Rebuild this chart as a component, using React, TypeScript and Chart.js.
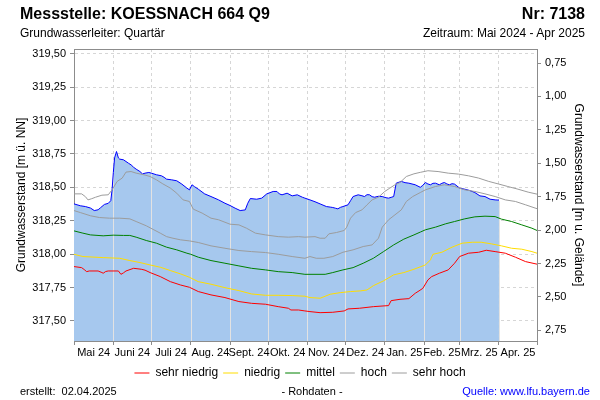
import React, { useEffect, useRef } from 'react';
import { Chart, registerables } from 'chart.js';

Chart.register(...registerables);

// ---- Data ----
const monthLabels = ['Mai 24', 'Juni 24', 'Juli 24', 'Aug. 24', 'Sept. 24', 'Okt. 24', 'Nov. 24', 'Dez. 24', 'Jan. 25', 'Feb. 25', 'Mrz. 25', 'Apr. 25'];
// day offsets (from 01.05.2024) of the month starts
const monthStartDays = [0, 31, 61, 92, 123, 153, 184, 214, 245, 276, 304, 335, 365];

const GROUND_LEVEL = 320.18; // m ü. NN
const Y_MIN = 317.35;
const Y_MAX = 319.535;

const measuredDays = [0, 5, 9, 13, 16, 19, 21, 24, 27, 29, 30, 31, 32, 33.5, 35, 36, 39, 43, 45, 47, 49, 52, 54, 56, 59, 61, 65, 69, 71, 73, 77, 81, 85, 89, 91, 93, 95, 98, 103, 108, 114, 119, 123, 127, 131, 135, 137, 139, 144, 148, 152, 157, 160, 162, 164, 168, 172, 176, 180, 182, 186, 190, 194, 199, 202, 204, 206, 208, 210, 212, 216, 218, 220, 224, 227, 229, 231, 233, 235, 237, 240, 243, 246, 248, 250, 252, 254, 258, 261, 264, 269, 273, 275, 277, 279, 281, 283, 285, 288, 290, 292, 294, 296, 298, 300, 304, 308, 312, 316, 320, 324, 328, 332, 335];
const measuredLevels = [318.376, 318.362, 318.356, 318.345, 318.326, 318.332, 318.348, 318.372, 318.38, 318.4, 318.48, 318.61, 318.72, 318.768, 318.72, 318.711, 318.706, 318.68, 318.668, 318.65, 318.636, 318.618, 318.6, 318.606, 318.611, 318.606, 318.594, 318.586, 318.575, 318.561, 318.556, 318.549, 318.524, 318.494, 318.481, 318.519, 318.505, 318.486, 318.451, 318.431, 318.406, 318.381, 318.364, 318.344, 318.326, 318.331, 318.381, 318.416, 318.411, 318.419, 318.451, 318.469, 318.469, 318.45, 318.444, 318.456, 318.436, 318.444, 318.426, 318.419, 318.406, 318.392, 318.376, 318.356, 318.352, 318.349, 318.344, 318.339, 318.35, 318.356, 318.369, 318.4, 318.431, 318.444, 318.437, 318.431, 318.445, 318.444, 318.43, 318.426, 318.433, 318.431, 318.422, 318.419, 318.425, 318.431, 318.531, 318.544, 318.535, 318.531, 318.519, 318.5, 318.515, 318.536, 318.525, 318.519, 318.53, 318.531, 318.519, 318.53, 318.536, 318.525, 318.519, 318.527, 318.524, 318.494, 318.486, 318.476, 318.461, 318.436, 318.431, 318.411, 318.406, 318.404];

const sehrHochDays = [0, 6, 9, 11, 14, 17, 22, 27, 30, 34, 38, 41, 45, 49, 55, 60, 65, 70, 76, 81, 86, 91, 94, 101, 108, 114, 123, 130, 136, 143, 151, 161, 169, 177, 182, 190, 194, 198, 201, 207, 213, 215, 218, 222, 227, 231, 235, 240, 245, 249, 253, 257, 262, 268, 273, 279, 287, 295, 303, 311, 319, 327, 335, 342, 350, 358, 365];
const sehrHochLevels = [318.451, 318.451, 318.43, 318.406, 318.415, 318.426, 318.441, 318.444, 318.481, 318.544, 318.569, 318.614, 318.618, 318.606, 318.594, 318.581, 318.556, 318.526, 318.494, 318.456, 318.406, 318.394, 318.337, 318.307, 318.269, 318.257, 318.224, 318.219, 318.194, 318.157, 318.144, 318.131, 318.127, 318.131, 318.127, 318.131, 318.119, 318.119, 318.152, 318.162, 318.177, 318.202, 318.269, 318.311, 318.331, 318.369, 318.406, 318.426, 318.469, 318.494, 318.519, 318.536, 318.581, 318.601, 318.612, 318.624, 318.618, 318.606, 318.599, 318.586, 318.569, 318.544, 318.524, 318.506, 318.486, 318.464, 318.449];

const hochDays = [0, 5, 13, 20, 28, 36, 44, 49, 57, 63, 68, 73, 78, 84, 91, 98, 108, 119, 130, 140, 151, 161, 172, 182, 186, 191, 197, 204, 212, 220, 228, 235, 240, 243, 248, 253, 258, 262, 267, 273, 277, 285, 292, 300, 308, 316, 324, 332, 340, 348, 356, 365];
const hochLevels = [318.326, 318.311, 318.287, 318.274, 318.269, 318.269, 318.264, 318.244, 318.212, 318.182, 318.157, 318.131, 318.119, 318.107, 318.099, 318.087, 318.062, 318.044, 318.027, 318.019, 318.012, 317.999, 317.982, 317.969, 317.982, 317.969, 317.969, 317.982, 318.014, 318.032, 318.057, 318.069, 318.119, 318.202, 318.257, 318.294, 318.331, 318.394, 318.431, 318.461, 318.481, 318.506, 318.519, 318.506, 318.481, 318.469, 318.451, 318.431, 318.406, 318.394, 318.369, 318.34];

const mittelDays = [0, 7, 13, 23, 31, 39, 44, 49, 57, 65, 73, 81, 89, 92, 98, 108, 119, 130, 140, 151, 161, 172, 182, 198, 204, 212, 220, 228, 236, 244, 252, 260, 268, 273, 277, 285, 293, 300, 308, 316, 324, 332, 337, 345, 353, 361, 365];
const mittelLevels = [318.174, 318.157, 318.144, 318.137, 318.142, 318.14, 318.14, 318.127, 318.102, 318.082, 318.052, 318.032, 318.007, 317.999, 317.977, 317.952, 317.932, 317.912, 317.894, 317.882, 317.869, 317.862, 317.849, 317.849, 317.862, 317.882, 317.899, 317.932, 317.969, 318.019, 318.069, 318.112, 318.144, 318.165, 318.182, 318.202, 318.227, 318.244, 318.264, 318.279, 318.284, 318.281, 318.262, 318.244, 318.219, 318.194, 318.177];

const niedrigDays = [0, 7, 23, 36, 44, 52, 60, 68, 76, 84, 91, 98, 108, 119, 130, 140, 151, 161, 172, 182, 186, 194, 202, 210, 218, 226, 231, 236, 244, 252, 260, 268, 273, 277, 281, 283, 290, 298, 306, 314, 321, 329, 337, 345, 353, 361, 365];
const niedrigLevels = [317.999, 317.982, 317.974, 317.969, 317.952, 317.937, 317.919, 317.902, 317.877, 317.852, 317.827, 317.794, 317.775, 317.749, 317.727, 317.702, 317.692, 317.692, 317.69, 317.685, 317.675, 317.67, 317.7, 317.712, 317.72, 317.725, 317.732, 317.764, 317.8, 317.845, 317.862, 317.887, 317.905, 317.919, 317.957, 317.999, 318.014, 318.052, 318.082, 318.089, 318.089, 318.077, 318.062, 318.044, 318.037, 318.019, 318.007];

const sehrNiedrigDays = [0, 6, 8, 10, 12, 19, 22, 23, 25, 27, 35, 37, 39, 41, 47, 53, 56, 60, 68, 76, 84, 91, 98, 108, 119, 130, 140, 151, 161, 169, 171, 177, 182, 186, 194, 204, 213, 216, 225, 236, 248, 250, 257, 264, 269, 272, 275, 279, 282, 288, 295, 300, 304, 311, 319, 325, 332, 340, 348, 356, 365];
const sehrNiedrigLevels = [317.907, 317.899, 317.885, 317.869, 317.874, 317.874, 317.862, 317.857, 317.87, 317.874, 317.874, 317.849, 317.86, 317.874, 317.894, 317.887, 317.88, 317.862, 317.832, 317.794, 317.769, 317.752, 317.72, 317.695, 317.675, 317.645, 317.632, 317.625, 317.607, 317.595, 317.582, 317.582, 317.575, 317.57, 317.562, 317.565, 317.575, 317.59, 317.595, 317.607, 317.615, 317.652, 317.662, 317.667, 317.707, 317.725, 317.744, 317.807, 317.832, 317.857, 317.882, 317.932, 317.982, 318.007, 318.014, 318.029, 318.019, 318.007, 317.977, 317.944, 317.925];

const FONT = "'Liberation Sans', Arial, Helvetica, sans-serif";

function pts(days: number[], vals: number[]) {
  return days.map((d, i) => ({ x: d, y: vals[i] }));
}

function interp(days: number[], vals: number[], d: number): number | null {
  if (d < days[0] || d > days[days.length - 1]) return null;
  for (let i = 0; i < days.length - 1; i++) {
    if (d >= days[i] && d <= days[i + 1]) {
      const t = (d - days[i]) / (days[i + 1] - days[i]);
      return vals[i] + t * (vals[i + 1] - vals[i]);
    }
  }
  return vals[vals.length - 1];
}

const fmt = (v: number) => v.toFixed(2).replace('.', ',');

export default function App() {
  const ref = useRef<HTMLCanvasElement>(null);

  useEffect(() => {
    if (!ref.current) return;
    Chart.defaults.font.family = FONT;
    Chart.defaults.font.size = 11;
    Chart.defaults.color = '#000';

    const mids = monthLabels.map((_, i) => (monthStartDays[i] + monthStartDays[i + 1]) / 2);
    const xTicks = [...monthStartDays, ...mids].sort((a, b) => a - b);
    const isBoundary = (v: number) => monthStartDays.indexOf(v) >= 0;
    const MEASURED_INDEX = 5;

    const monthLinesPlugin = {
      id: 'monthLines',
      beforeDatasetDraw(chart: any, args: any) {
        if (args.index !== MEASURED_INDEX) return;
        const { ctx, chartArea, scales } = chart;
        ctx.save();
        ctx.strokeStyle = '#e2e2e2';
        ctx.lineWidth = 1;
        monthStartDays.forEach((d) => {
          if (d <= 0) return;
          const v = interp(measuredDays, measuredLevels, d);
          if (v === null) return;
          const x = Math.round(scales.x.getPixelForValue(d)) + 0.5;
          const y = scales.y.getPixelForValue(v);
          ctx.beginPath();
          ctx.moveTo(x, chartArea.bottom);
          ctx.lineTo(x, y + 1);
          ctx.stroke();
        });
        ctx.restore();
      },
      afterDatasetsDraw(chart: any) {
        const { ctx, chartArea } = chart;
        ctx.save();
        ctx.strokeStyle = '#8c8c8c';
        ctx.lineWidth = 1;
        ctx.beginPath();
        ctx.moveTo(chartArea.left, Math.round(chartArea.top) + 0.5);
        ctx.lineTo(chartArea.right, Math.round(chartArea.top) + 0.5);
        ctx.stroke();
        ctx.restore();
      },
    };

    const lineDs = (label: string, days: number[], vals: number[], color: string) => ({
      label,
      data: pts(days, vals),
      borderColor: color,
      backgroundColor: color,
      borderWidth: 1,
      pointRadius: 0,
      tension: 0,
      fill: false,
    });

    const chart = new Chart(ref.current, {
      type: 'line',
      data: {
        datasets: [
          lineDs('sehr niedrig', sehrNiedrigDays, sehrNiedrigLevels, '#ff0000'),
          lineDs('niedrig', niedrigDays, niedrigLevels, '#ffdd00'),
          lineDs('mittel', mittelDays, mittelLevels, '#008000'),
          lineDs('hoch', hochDays, hochLevels, '#9c9c9c'),
          lineDs('sehr hoch', sehrHochDays, sehrHochLevels, '#9c9c9c'),
          {
            label: 'Messwerte',
            data: pts(measuredDays, measuredLevels),
            borderColor: '#0000ff',
            backgroundColor: '#a6c8ee',
            borderWidth: 1,
            pointRadius: 0,
            tension: 0,
            fill: 'start',
          } as any,
        ],
      },
      options: {
        animation: false,
        responsive: false,
        maintainAspectRatio: false,
        layout: { padding: { top: 49, left: 0, right: 0, bottom: 11 } },
        plugins: {
          tooltip: { enabled: false },
          legend: {
            position: 'bottom',
            labels: {
              usePointStyle: true,
              pointStyle: 'line',
              pointStyleWidth: 15,
              padding: 5,
              color: '#000',
              font: { size: 12, family: FONT },
              filter: (item: any) => item.datasetIndex !== MEASURED_INDEX,
            },
          },
        },
        scales: {
          x: {
            type: 'linear',
            min: 0,
            max: 365,
            afterBuildTicks: (scale: any) => {
              scale.ticks = xTicks.map((v) => ({ value: v }));
            },
            afterFit: (scale: any) => {
              scale.height = 21;
            },
            ticks: {
              autoSkip: false,
              maxRotation: 0,
              minRotation: 0,
              padding: 1,
              color: '#000',
              font: { size: 11, family: FONT },
              callback: (value: any) => {
                const i = mids.indexOf(Number(value));
                return i >= 0 ? monthLabels[i] : '';
              },
            },
            grid: {
              color: (c: any) => (c.tick && isBoundary(c.tick.value) ? '#d6d6d6' : 'rgba(0,0,0,0)'),
              tickColor: (c: any) => (c.tick && isBoundary(c.tick.value) ? '#8c8c8c' : 'rgba(0,0,0,0)'),
              tickLength: 4,
              tickBorderDash: [],
            },
            border: { display: true, color: '#8c8c8c', dash: [3, 3] },
          },
          y: {
            type: 'linear',
            position: 'left',
            min: Y_MIN,
            max: Y_MAX,
            afterFit: (scale: any) => {
              scale.width = 74;
            },
            ticks: {
              stepSize: 0.25,
              includeBounds: false,
              maxTicksLimit: 20,
              padding: 4,
              color: '#000',
              font: { size: 11, family: FONT },
              callback: (v: any) => fmt(Number(v)),
            },
            grid: { color: '#d6d6d6', tickColor: '#8c8c8c', tickLength: 4, tickBorderDash: [] },
            border: { display: true, color: '#8c8c8c', dash: [3, 3] },
            title: {
              display: true,
              text: 'Grundwasserstand [m ü. NN]',
              color: '#000',
              font: { size: 12, family: FONT },
              padding: { top: 14, bottom: 0 },
            },
          },
          y2: {
            type: 'linear',
            position: 'right',
            reverse: true,
            min: GROUND_LEVEL - Y_MAX,
            max: GROUND_LEVEL - Y_MIN,
            afterFit: (scale: any) => {
              scale.width = 63;
            },
            ticks: {
              stepSize: 0.25,
              includeBounds: false,
              maxTicksLimit: 20,
              padding: 4,
              color: '#000',
              font: { size: 11, family: FONT },
              callback: (v: any) => fmt(Number(v)),
            },
            grid: { drawOnChartArea: false, tickColor: '#8c8c8c', tickLength: 4 },
            border: { display: true, color: '#8c8c8c' },
            title: {
              display: true,
              text: 'Grundwasserstand [m u. Gelände]',
              color: '#000',
              font: { size: 12, family: FONT },
              padding: { top: 14, bottom: 0 },
            },
          },
        },
      } as any,
      plugins: [monthLinesPlugin],
    });

    return () => chart.destroy();
  }, []);

  const abs = (extra: React.CSSProperties): React.CSSProperties => ({
    position: 'absolute',
    whiteSpace: 'nowrap',
    fontFamily: FONT,
    color: '#000',
    ...extra,
  });

  return (
    <div style={{ position: 'fixed', left: 0, top: 0, width: 600, height: 400, background: '#fff', overflow: 'hidden' }}>
      <canvas ref={ref} width={600} height={400} style={{ position: 'absolute', left: 0, top: 0, width: 600, height: 400 }} />
      <div style={abs({ left: 20, top: 4, fontSize: 16, fontWeight: 'bold', lineHeight: '20px' })}>Messstelle: KOESSNACH 664 Q9</div>
      <div style={abs({ right: 15, top: 4, fontSize: 16, fontWeight: 'bold', lineHeight: '20px' })}>Nr: 7138</div>
      <div style={abs({ left: 20, top: 26, fontSize: 12, lineHeight: '14px' })}>Grundwasserleiter: Quartär</div>
      <div style={abs({ right: 15, top: 26, fontSize: 12, lineHeight: '14px' })}>Zeitraum: Mai 2024 - Apr 2025</div>
      <div style={abs({ left: 20, top: 384, fontSize: 11, lineHeight: '14px' })}>erstellt:&nbsp;&nbsp;02.04.2025</div>
      <div style={abs({ left: 262, width: 100, textAlign: 'center', top: 384, fontSize: 11, lineHeight: '14px' })}>- Rohdaten -</div>
      <div style={abs({ right: 10, top: 384, fontSize: 11, lineHeight: '14px', color: '#0000ff' })}>Quelle: www.lfu.bayern.de</div>
    </div>
  );
}
